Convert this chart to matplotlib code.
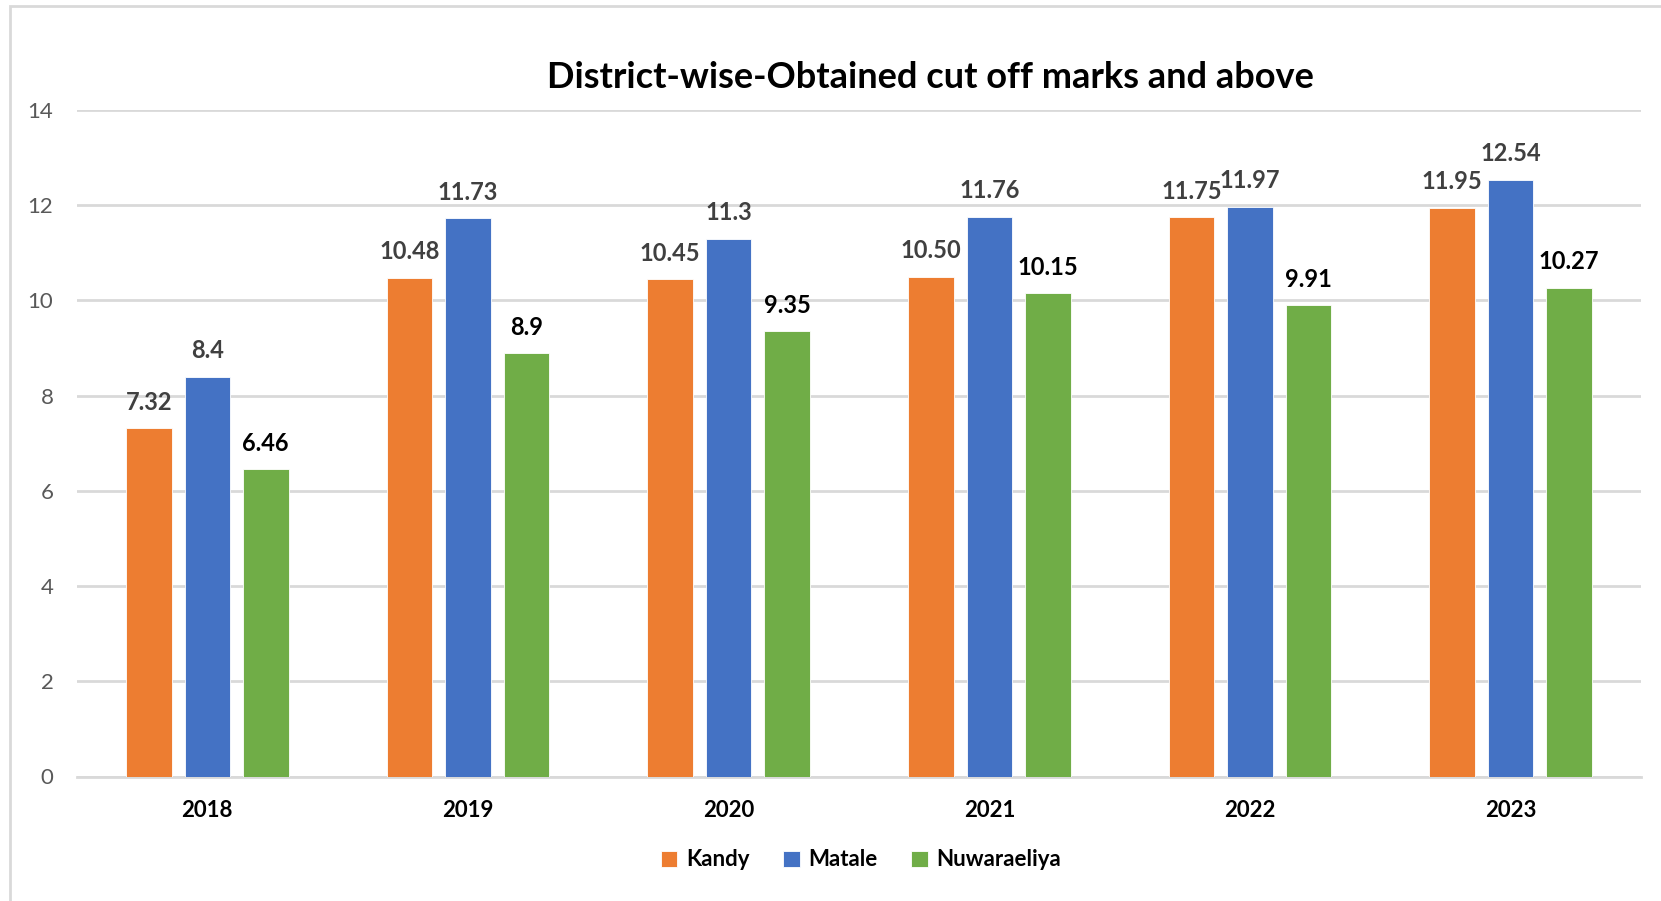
import numpy as np
import matplotlib.pyplot as plt
from matplotlib.patches import Rectangle

years = ['2018', '2019', '2020', '2021', '2022', '2023']
kandy = [7.32, 10.48, 10.45, 10.50, 11.75, 11.95]
matale = [8.4, 11.73, 11.3, 11.76, 11.97, 12.54]
nuwaraeliya = [6.46, 8.9, 9.35, 10.15, 9.91, 10.27]
kandy_labels = ['7.32', '10.48', '10.45', '10.50', '11.75', '11.95']
matale_labels = ['8.4', '11.73', '11.3', '11.76', '11.97', '12.54']
nuwara_labels = ['6.46', '8.9', '9.35', '10.15', '9.91', '10.27']

plt.rcParams['font.family'] = ['Lato', 'DejaVu Sans']

fig = plt.figure(figsize=(16.61, 9.01), dpi=100)
ax = fig.add_axes([77 / 1661, 1 - 776.5 / 901, (1641 - 77) / 1661, (776.5 - 110) / 901])

# light frame round the chart area
fig.patches.append(Rectangle((10 / 1661, -0.1), 1.2, 1 - 6 / 901 + 0.1, transform=fig.transFigure,
                             fill=False, edgecolor='#d9d9d9', linewidth=2))

x = np.arange(len(years))
w = 0.175
off = 0.224
series = [
    (kandy, kandy_labels, '#ed7d31', 'Kandy', '#404040'),
    (matale, matale_labels, '#4472c4', 'Matale', '#404040'),
    (nuwaraeliya, nuwara_labels, '#70ad47', 'Nuwaraeliya', 'black'),
]
for i, (vals, labs, col, name, lc) in enumerate(series):
    bars = ax.bar(x + (i - 1) * off, vals, w, color=col, label=name, edgecolor='white', linewidth=0.6, zorder=3)
    for b, t in zip(bars, labs):
        ax.annotate(t, (b.get_x() + b.get_width() / 2, b.get_height()), xytext=(0, 18.5),
                    textcoords='offset points', ha='center', va='center',
                    fontsize=17, fontweight='bold', color=lc)

ax.set_xlim(-0.5, len(years) - 0.5)
ax.set_ylim(0, 14)
ax.set_yticks(range(0, 15, 2))
ax.set_xticks(x)
ax.set_xticklabels(years, fontsize=16, fontweight='bold', color='black')
ax.tick_params(axis='y', length=0, pad=17, labelsize=16, labelcolor='#595959')
ax.tick_params(axis='x', length=0, pad=17)
ax.grid(axis='y', color='#d9d9d9', linewidth=2, zorder=0)
for s in ['top', 'right', 'left']:
    ax.spines[s].set_visible(False)
ax.spines['bottom'].set_color('#d9d9d9')
ax.spines['bottom'].set_linewidth(2)

fig.text(930 / 1661, 1 - 77 / 901, 'District-wise-Obtained cut off marks and above',
         ha='center', va='center', fontsize=26, fontweight='bold', color='black')

leg = fig.legend(loc='center', bbox_to_anchor=(861 / 1661, 1 - 860 / 901), ncol=3, frameon=False,
                 prop={'size': 16, 'weight': 'bold'}, handlelength=0.75, handleheight=0.75,
                 handletextpad=0.4, columnspacing=1.5)

fig.savefig('out.png', dpi=100)
